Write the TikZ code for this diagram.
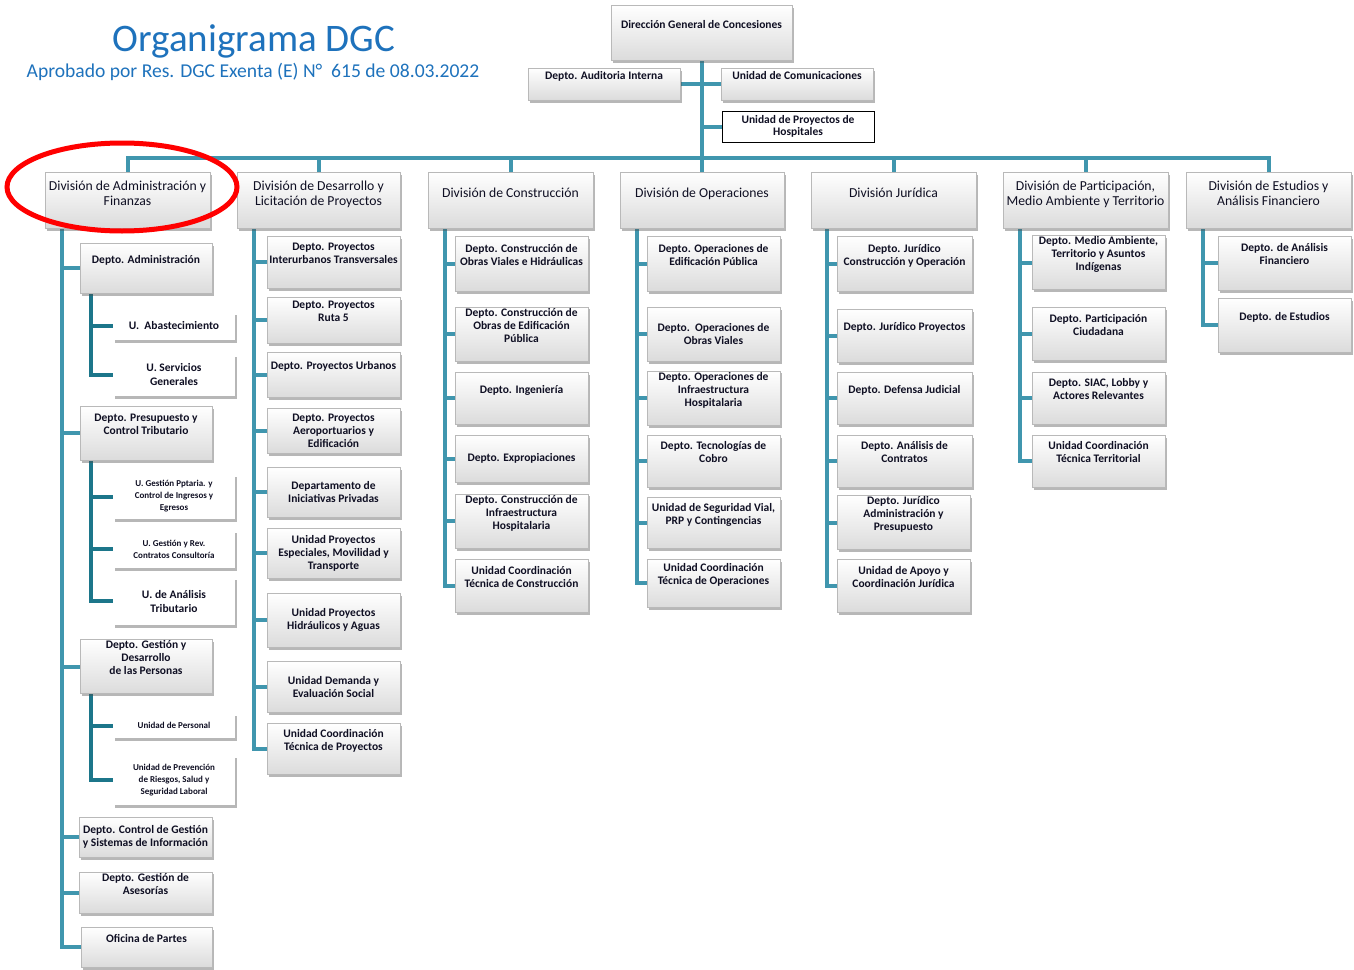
\documentclass[tikz,border=0pt]{standalone}
\usepackage{fontspec}
\setmainfont{Carlito}
\usetikzlibrary{shadows,backgrounds,calc}
\definecolor{linea}{RGB}{64,150,174}
\definecolor{lineb}{RGB}{28,118,138}
\definecolor{tinta}{RGB}{15,15,35}
\definecolor{titulo}{RGB}{30,114,188}
\newcommand{\lift}[1][5pt]{\\[#1]\mbox{}}

\begin{document}
\begin{tikzpicture}[x=1pt, y=-1pt]
  \tikzset{
    conn/.style={line width=4pt, draw=linea},
    subconn/.style={line width=4pt, draw=lineb},
    sz/.style 2 args={minimum width=#1pt, minimum height=#2pt},
    sombra/.style={drop shadow={shadow xshift=2pt, shadow yshift=-2.5pt, opacity=0.4, fill=black!70}},
    blk/.style={sombra, draw=gray!55, line width=0.5pt, top color=white, bottom color=gray!28, align=center, text=tinta, inner sep=1pt, font=\bfseries\fontsize{11.5}{13}\selectfont},
    div/.style={blk, font=\fontsize{13.7}{15}\selectfont},
    sub/.style={sombra, fill=white, align=center, text=tinta, inner sep=1pt, font=\bfseries\fontsize{11.5}{14}\selectfont},
    tiny/.style={sub, font=\bfseries\fontsize{9}{12}\selectfont},
  }
  \useasboundingbox (0,0) rectangle (1354,969);
  % title
  \node[text=titulo, font=\fontsize{39}{42}\selectfont] (title) at (254,41) {Organigrama DGC};
  \node[text=titulo, font=\fontsize{19.6}{22}\selectfont] (subtitle) at (253,72) {Aprobado por Res. DGC Exenta (E) N°\ \ 615 de 08.03.2022};
  % top level
  \node[blk, sz={181}{55}] (dgc) at (701.5,32.5) {Dirección General de Concesiones\lift[3pt]};
  \node[blk, sz={152}{32}] (aud) at (604,84) {Depto. Auditoria Interna\lift};
  \node[blk, sz={152}{32}] (com) at (797,84) {Unidad de Comunicaciones\lift};
  \node[draw=black, line width=0.8pt, fill=white, sz={152}{31}, align=center, text=tinta, inner sep=1pt,
        font=\bfseries\fontsize{11.5}{12.5}\selectfont] (hos) at (798,126.5) {Unidad de Proyectos de\\Hospitales};
  % divisions
  \node[div, sz={165}{56}] (d1) at (127.5,200) {División de Administración y\\Finanzas\lift[-1pt]};
  \node[div, sz={163}{56}] (d2) at (318.5,200) {División de Desarrollo y\\Licitación de Proyectos\lift[-1pt]};
  \node[div, sz={165}{56}] (d3) at (510.5,200) {División de Construcción\lift[-1pt]};
  \node[div, sz={164}{56}] (d4) at (702,200) {División de Operaciones\lift[-1pt]};
  \node[div, sz={165}{56}] (d5) at (893.5,200) {División Jurídica\lift[-1pt]};
  \node[div, sz={165}{56}] (d6) at (1085.5,200) {División de Participación,\\Medio Ambiente y Territorio\lift[-1pt]};
  \node[div, sz={165}{56}] (d7) at (1268.5,200) {División de Estudios y\\Análisis Financiero\lift[-1pt]};
  % administracion y finanzas
  \node[blk, sz={132}{50}] (a1) at (146,268) {Depto. Administración\lift};
  \node[sub, sz={122}{28}] (a1s1) at (174,326) {U.\ \ Abastecimiento};
  \node[sub, sz={122}{42}] (a1s2) at (174,375) {U. Servicios\\Generales};
  \node[blk, sz={132}{54}] (a2) at (146,433) {Depto. Presupuesto y\\Control Tributario\lift};
  \node[tiny, sz={122}{45}] (a2s1) at (174,496.5) {U. Gestión Pptaria. y\\Control de Ingresos y\\Egresos};
  \node[tiny, sz={122}{38}] (a2s2) at (174,549) {U. Gestión y Rev.\\Contratos Consultoría};
  \node[sub, sz={122}{48}] (a2s3) at (174,601) {U. de Análisis\\Tributario};
  \node[blk, sz={132}{53}] (a3) at (146,666.5) {Depto. Gestión y\\Desarrollo\\de las Personas\lift};
  \node[tiny, sz={122}{25}] (a3s1) at (174,725.5) {Unidad de Personal};
  \node[tiny, sz={122}{50}] (a3s2) at (174,780) {Unidad de Prevención\\de Riesgos, Salud y\\Seguridad Laboral};
  \node[blk, sz={133}{40}] (a4) at (145.5,837) {Depto. Control de Gestión\\y Sistemas de Información};
  \node[blk, sz={133}{41}] (a5) at (145.5,892.5) {Depto. Gestión de\\Asesorías\lift};
  \node[blk, sz={131}{40}] (a6) at (146.5,947) {Oficina de Partes\lift};
  % desarrollo y licitacion
  \node[blk, sz={133}{52}] (b1) at (333.5,262) {Depto. Proyectos\\Interurbanos Transversales\lift};
  \node[blk, sz={133}{46}] (b2) at (333.5,320) {Depto. Proyectos\\Ruta 5\lift};
  \node[blk, sz={133}{45}] (b3) at (333.5,374.5) {Depto. Proyectos Urbanos\lift};
  \node[blk, sz={133}{45}] (b4) at (333.5,430.5) {Depto. Proyectos\\Aeroportuarios y\\Edificación};
  \node[blk, sz={133}{50}] (b5) at (333.5,492) {Departamento de\\Iniciativas Privadas};
  \node[blk, sz={133}{50}] (b6) at (333.5,553) {Unidad Proyectos\\Especiales, Movilidad y\\Transporte};
  \node[blk, sz={133}{54}] (b7) at (333.5,620) {Unidad Proyectos\\Hidráulicos y Aguas};
  \node[blk, sz={133}{51}] (b8) at (333.5,686.5) {Unidad Demanda y\\Evaluación Social};
  \node[blk, sz={133}{51}] (b9) at (333.5,748.5) {Unidad Coordinación\\Técnica de Proyectos\lift};
  % construccion
  \node[blk, sz={133}{55}] (c1) at (521.5,263.5) {Depto. Construcción de\\Obras Viales e Hidráulicas\lift};
  \node[blk, sz={133}{54}] (c2) at (521.5,334) {Depto. Construcción de\\Obras de Edificación\\Pública\lift};
  \node[blk, sz={133}{52}] (c3) at (521.5,398) {Depto. Ingeniería\lift};
  \node[blk, sz={133}{47}] (c4) at (521.5,458.5) {Depto. Expropiaciones};
  \node[blk, sz={133}{52}] (c5) at (521.5,521) {Depto. Construcción de\\Infraestructura\\Hospitalaria\lift};
  \node[blk, sz={133}{53}] (c6) at (521.5,585.5) {Unidad Coordinación\\Técnica de Construcción\lift};
  % operaciones
  \node[blk, sz={133}{55}] (e1) at (713.5,263.5) {Depto. Operaciones de\\Edificación Pública\lift};
  \node[blk, sz={133}{54}] (e2) at (713.5,334) {Depto.\ \ Operaciones de\\Obras Viales};
  \node[blk, sz={133}{52}] (e3) at (713.5,398) {Depto. Operaciones de\\Infraestructura\\Hospitalaria\lift};
  \node[blk, sz={133}{52}] (e4) at (713.5,461) {Depto. Tecnologías de\\Cobro\lift};
  \node[blk, sz={133}{51}] (e5) at (713.5,522.5) {Unidad de Seguridad Vial,\\PRP y Contingencias\lift};
  \node[blk, sz={133}{48}] (e6) at (713.5,583) {Unidad Coordinación\\Técnica de Operaciones\lift};
  % juridica
  \node[blk, sz={135}{55}] (f1) at (904.5,263.5) {Depto. Jurídico\\Construcción y Operación\lift};
  \node[blk, sz={135}{53}] (f2) at (904.5,335.5) {Depto. Jurídico Proyectos\lift};
  \node[blk, sz={135}{52}] (f3) at (904.5,398) {Depto. Defensa Judicial\lift};
  \node[blk, sz={135}{52}] (f4) at (904.5,461) {Depto. Análisis de\\Contratos\lift};
  \node[blk, sz={133}{51}] (f5) at (903.5,522.5) {Depto. Jurídico\\Administración y\\Presupuesto\lift};
  \node[blk, sz={133}{53}] (f6) at (903.5,585.5) {Unidad de Apoyo y\\Coordinación Jurídica\lift};
  % participacion
  \node[blk, sz={133}{53}] (g1) at (1098.5,262.5) {Depto. Medio Ambiente,\\Territorio y Asuntos\\Indígenas\lift};
  \node[blk, sz={133}{53}] (g2) at (1098.5,333.5) {Depto. Participación\\Ciudadana\lift};
  \node[blk, sz={133}{52}] (g3) at (1098.5,398) {Depto. SIAC, Lobby y\\Actores Relevantes\lift};
  \node[blk, sz={133}{52}] (g4) at (1098.5,461) {Unidad Coordinación\\Técnica Territorial\lift};
  % estudios
  \node[blk, sz={133}{54}] (h1) at (1284.5,263) {Depto. de Análisis\\Financiero\lift};
  \node[blk, sz={133}{54}] (h2) at (1284.5,325) {Depto. de Estudios\lift};
  % connectors
  \begin{scope}[on background layer]
    \foreach \i in {1,...,7} \draw[conn] (dgc.south) -- ++(0,98) -| (d\i.north);
    \draw[conn] (aud.east) -- (com.west);
    \draw[conn] (dgc.south |- hos.west) -- (hos.west);
    \foreach \n in {a1,a2,a3,a4,a5,a6} \draw[conn] ([xshift=17pt]d1.south west) |- (\n.west);
    \foreach \n in {a1s1,a1s2} \draw[subconn] ([xshift=11pt]a1.south west) |- (\n.west);
    \foreach \n in {a2s1,a2s2,a2s3} \draw[subconn] ([xshift=11pt]a2.south west) |- (\n.west);
    \foreach \n in {a3s1,a3s2} \draw[subconn] ([xshift=11pt]a3.south west) |- (\n.west);
    \foreach \n in {b1,b2,b3,b4,b5,b6,b7,b8,b9} \draw[conn] ([xshift=17pt]d2.south west) |- (\n.west);
    \foreach \n in {c1,c2,c3,c4,c5,c6} \draw[conn] ([xshift=17pt]d3.south west) |- (\n.west);
    \foreach \n in {e1,e2,e3,e4,e5,e6} \draw[conn] ([xshift=17pt]d4.south west) |- (\n.west);
    \foreach \n in {f1,f2,f3,f4,f5,f6} \draw[conn] ([xshift=16pt]d5.south west) |- (\n.west);
    \foreach \n in {g1,g2,g3,g4} \draw[conn] ([xshift=17pt]d6.south west) |- (\n.west);
    \foreach \n in {h1,h2} \draw[conn] ([xshift=17pt]d7.south west) |- (\n.west);
  \end{scope}
  % highlight
  \draw[red, line width=5pt] (122,187) ellipse [x radius=115pt, y radius=44pt];
\end{tikzpicture}
\end{document}
